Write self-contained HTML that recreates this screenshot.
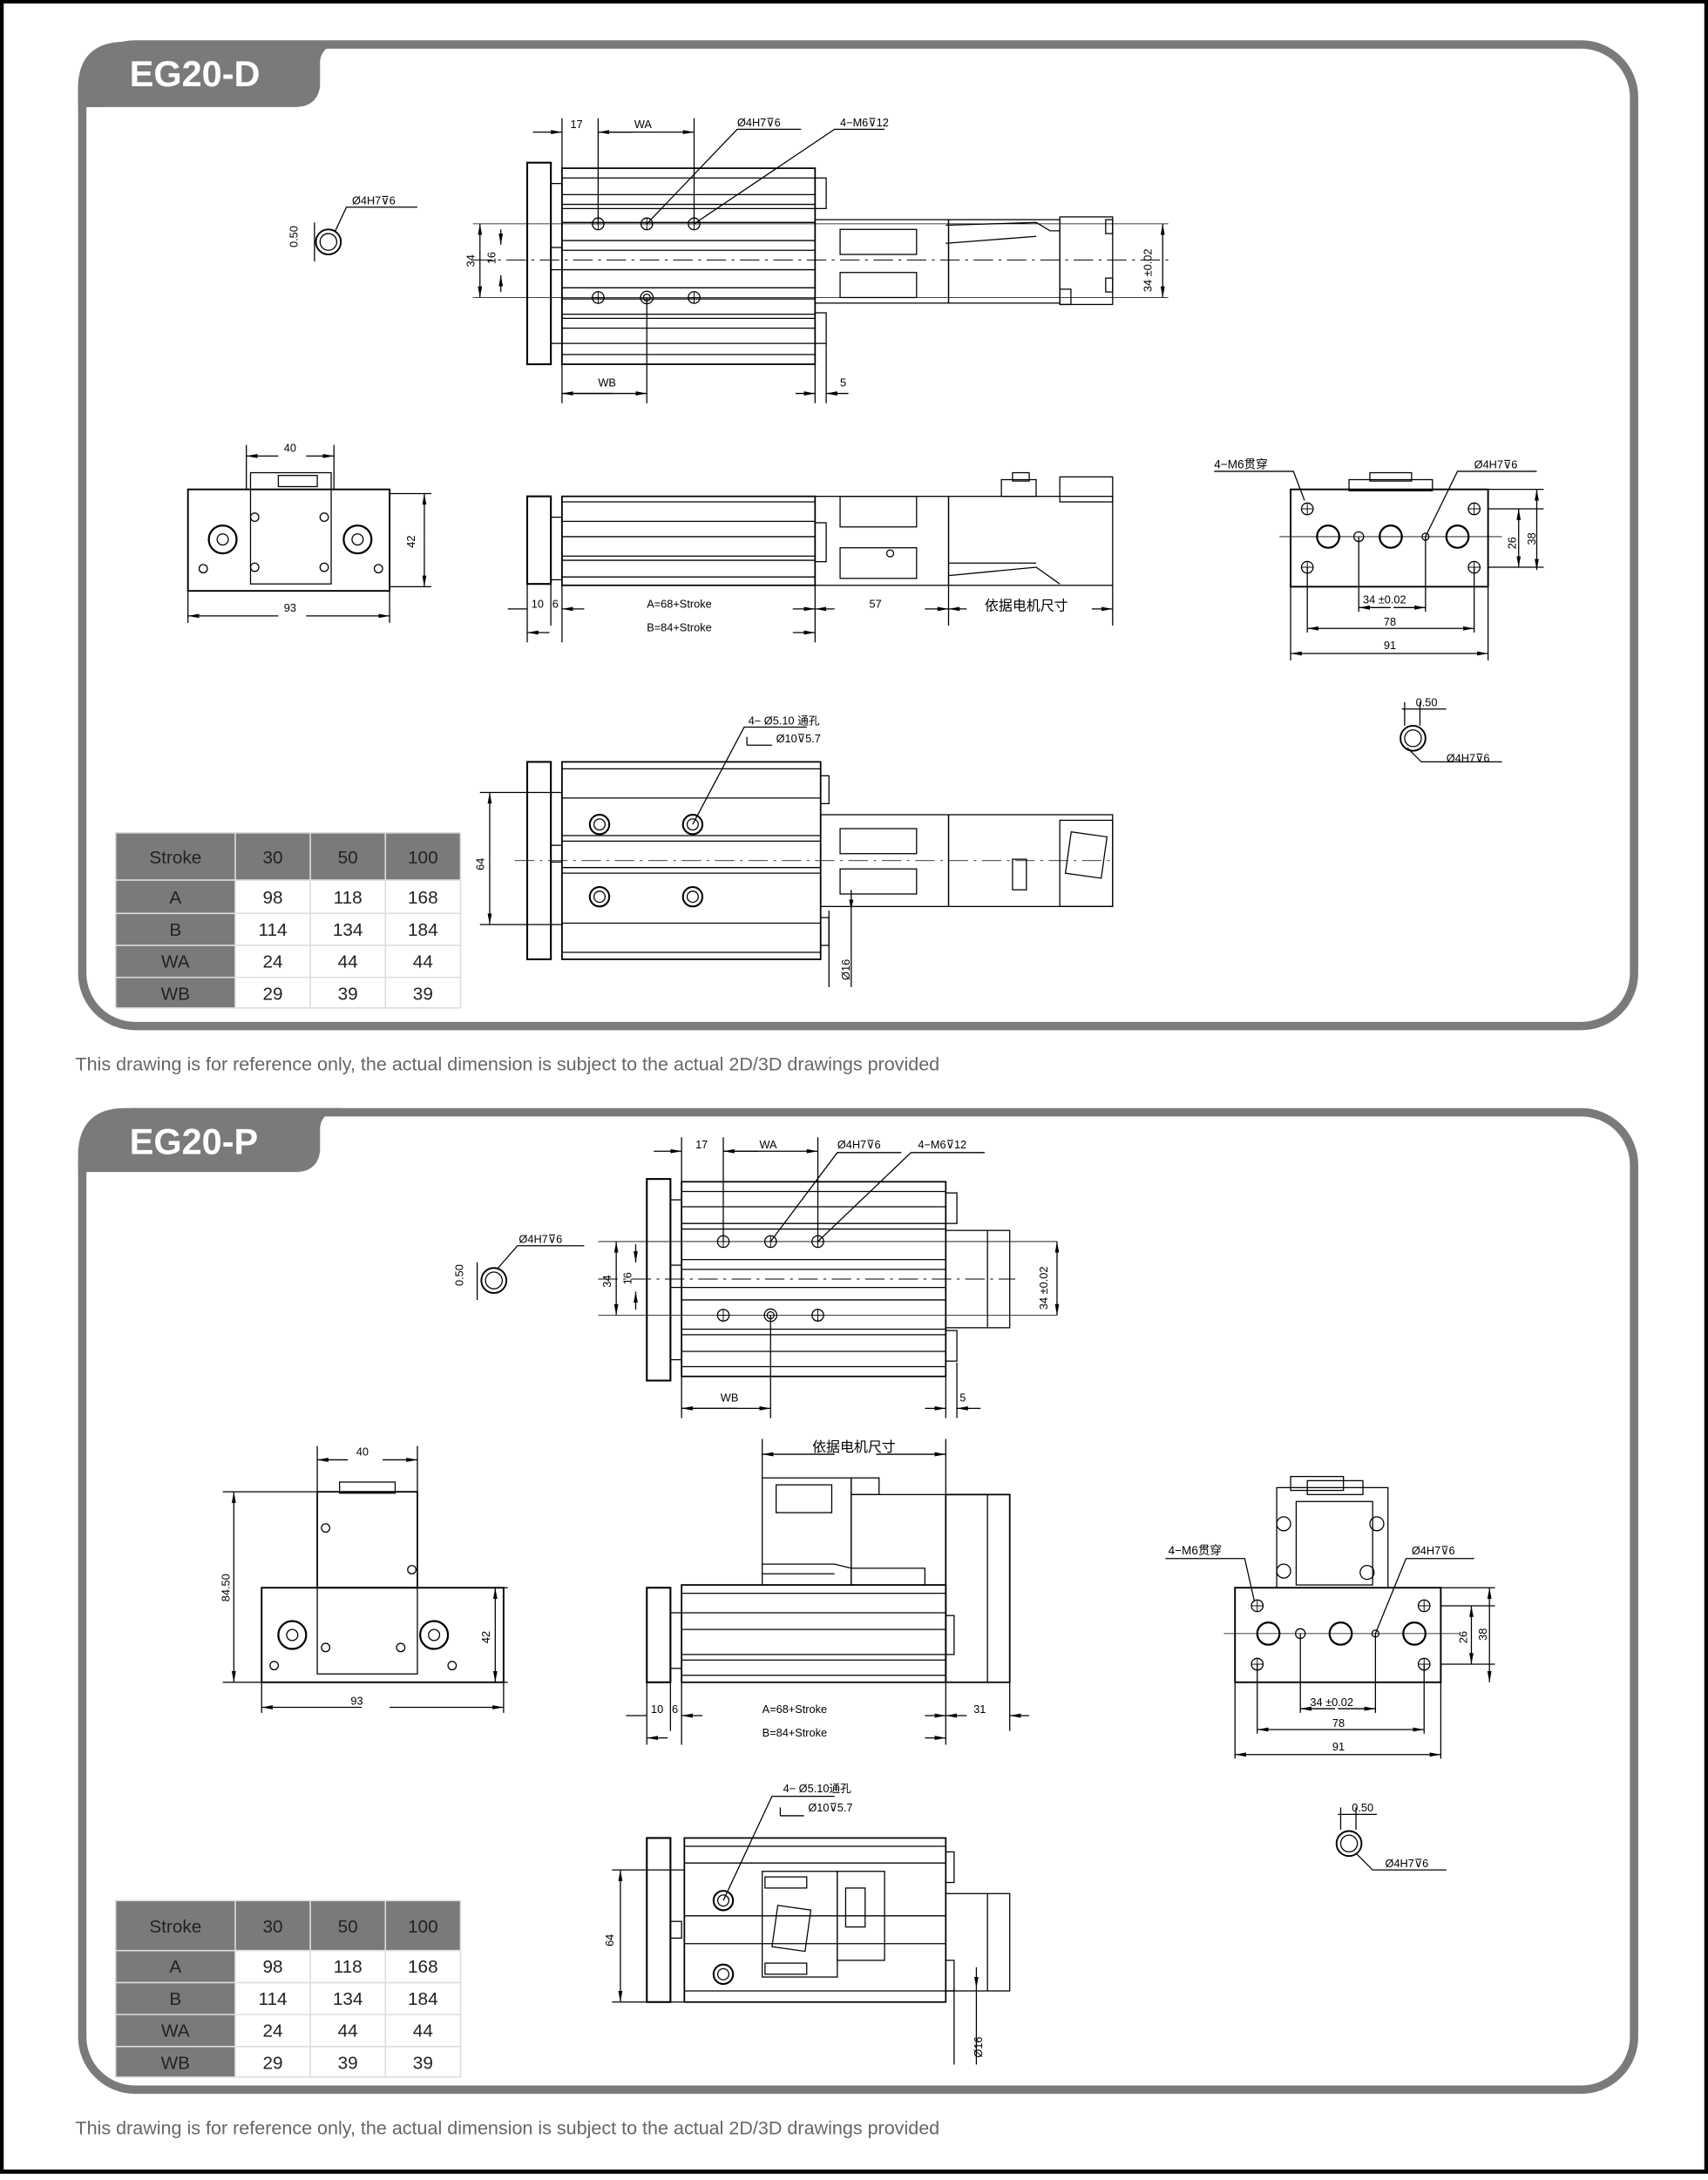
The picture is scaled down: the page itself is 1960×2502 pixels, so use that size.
<!DOCTYPE html>
<html><head><meta charset="utf-8"><style>
html,body{margin:0;padding:0;background:#fff;}
svg{display:block;}
.t{font-family:"Liberation Sans","Noto Sans CJK SC",sans-serif;}
</style></head><body>
<svg width="1960" height="2502" viewBox="0 0 1228 1568" xmlns="http://www.w3.org/2000/svg" class="t">
<defs>
<g id="hole"><circle r="4.2" fill="none" stroke="#000" stroke-width="0.8"/><line x1="-4.2" y1="0" x2="4.2" y2="0" stroke="#000" stroke-width="0.6"/><line x1="0" y1="-4.2" x2="0" y2="4.2" stroke="#000" stroke-width="0.6"/></g>
<g id="bighole"><circle r="8" fill="none" stroke="#000" stroke-width="1.4"/><circle r="3.5" fill="none" stroke="#000" stroke-width="0.7"/></g>
<marker id="ar" markerWidth="8" markerHeight="6" refX="8" refY="3" orient="auto" markerUnits="userSpaceOnUse"><path d="M0,1.5 L8,3 L0,4.5z" fill="#000"/></marker>
</defs>
<rect x="1" y="1" width="1226" height="1561" fill="none" stroke="#000" stroke-width="3"/>

<!-- PANEL 1 -->
<rect x="59" y="32" width="1116" height="706" rx="38" fill="none" stroke="#7a7a7a" stroke-width="6"/>
<path d="M56,77 L56,60 Q58,30 90,30 L245,30 Q230,34 230,45 L230,62 Q228,77 212,77 Z" fill="#7a7a7a"/>
<path d="M56,60 Q58,77 78,77 L100,77 L56,77Z" fill="#7a7a7a"/>
<text x="93" y="62" font-size="26" font-weight="bold" fill="#fff">EG20-D</text>
<text x="54" y="770" font-size="13.5" fill="#666">This drawing is for reference only, the actual dimension is subject to the actual 2D/3D drawings provided</text>

<!-- table 1 -->
<g font-size="13" text-anchor="middle">
<rect x="83" y="599" width="248" height="34" fill="#7a7a7a"/>
<rect x="83" y="633" width="86" height="92" fill="#7a7a7a"/>
<g stroke="#ddd" stroke-width="1" fill="none">
<rect x="83" y="599" width="248" height="126"/>
<line x1="169" y1="599" x2="169" y2="725"/><line x1="223" y1="599" x2="223" y2="725"/><line x1="277" y1="599" x2="277" y2="725"/>
<line x1="83" y1="633" x2="331" y2="633"/><line x1="83" y1="657" x2="331" y2="657"/><line x1="83" y1="680" x2="331" y2="680"/><line x1="83" y1="703" x2="331" y2="703"/>
</g>
<g fill="#222"><text x="126" y="621">Stroke</text><text x="196" y="621">30</text><text x="250" y="621">50</text><text x="304" y="621">100</text>
<text x="126" y="650">A</text><text x="196" y="650">98</text><text x="250" y="650">118</text><text x="304" y="650">168</text>
<text x="126" y="673">B</text><text x="196" y="673">114</text><text x="250" y="673">134</text><text x="304" y="673">184</text>
<text x="126" y="696">WA</text><text x="196" y="696">24</text><text x="250" y="696">44</text><text x="304" y="696">44</text>
<text x="126" y="719">WB</text><text x="196" y="719">29</text><text x="250" y="719">39</text><text x="304" y="719">39</text></g>
</g>

<g stroke="#000" fill="none" stroke-width="0.8" font-size="8">
<!-- top view D -->
<rect x="379" y="117" width="17" height="145" stroke-width="1.3"/>
<rect x="396" y="132" width="8" height="115"/>
<rect x="396" y="178" width="8" height="16"/>
<rect x="404" y="121" width="182" height="141" stroke-width="1.1"/>
<path d="M404,128H586M404,140H586M404,147H586M404,150H586M404,160H586M404,173H586M404,180H586M404,194H586M404,207H586M404,215H586M404,226H586M404,229H586M404,236H586M404,247H586M404,255H586"/>
<rect x="586" y="128" width="8" height="22"/><rect x="586" y="225" width="8" height="22"/>
<rect x="586" y="158" width="96" height="60"/>
<rect x="604" y="165" width="55" height="18"/><rect x="604" y="196" width="55" height="18"/>
<rect x="682" y="158" width="80" height="60"/>
<rect x="762" y="156" width="38" height="63"/>
<path d="M680,162L745,160L755,166L762,166M680,175L745,170"/>
<rect x="762" y="208" width="8" height="11"/><rect x="795" y="158" width="5" height="10"/><rect x="795" y="200" width="5" height="10"/>
<line x1="340" y1="187" x2="840" y2="187" stroke-dasharray="14,4,2,4" stroke-width="0.6"/>
<line x1="340" y1="161" x2="840" y2="161" stroke-width="0.5"/><line x1="340" y1="214" x2="840" y2="214" stroke-width="0.5"/>
<use href="#hole" x="430" y="161"/><use href="#hole" x="465" y="161"/><use href="#hole" x="499" y="161"/>
<use href="#hole" x="430" y="214"/><use href="#hole" x="499" y="214"/>
<circle cx="465" cy="214" r="4.5"/><circle cx="465" cy="214" r="2.5"/>
<path d="M404,85V121M430,85V161M499,85V161M465,214V290M404,262V290M586,262V290M594,247V290"/>
<line x1="383" y1="95" x2="404" y2="95" marker-end="url(#ar)"/><line x1="430" y1="95" x2="499" y2="95" marker-end="url(#ar)"/><line x1="455" y1="95" x2="430" y2="95" marker-end="url(#ar)"/>
<line x1="404" y1="283" x2="465" y2="283" marker-end="url(#ar)"/><line x1="440" y1="283" x2="404" y2="283" marker-end="url(#ar)"/>
<line x1="572" y1="283" x2="586" y2="283" marker-end="url(#ar)"/><line x1="610" y1="283" x2="594" y2="283" marker-end="url(#ar)"/>
<path d="M465,161L530,93H576M499,161L600,93H636"/>
<line x1="345" y1="187" x2="345" y2="161" marker-end="url(#ar)"/><line x1="345" y1="187" x2="345" y2="214" marker-end="url(#ar)"/>
<line x1="360" y1="165" x2="360" y2="176" marker-end="url(#ar)"/><line x1="360" y1="210" x2="360" y2="198" marker-end="url(#ar)"/>
<line x1="836" y1="187" x2="836" y2="161" marker-end="url(#ar)"/><line x1="836" y1="187" x2="836" y2="214" marker-end="url(#ar)"/>
<g stroke="none" fill="#000">
<text x="410" y="92">17</text><text x="456" y="92">WA</text><text x="530" y="91">Ø4H7⊽6</text><text x="604" y="91">4−M6⊽12</text>
<text x="430" y="278">WB</text><text x="604" y="278">5</text>
<text transform="translate(341,192) rotate(-90)">34</text><text transform="translate(356,190) rotate(-90)">16</text>
<text transform="translate(828,210) rotate(-90)">34 ±0.02</text>
</g>
<!-- small detail circles -->
<circle cx="236" cy="174" r="9" stroke-width="1.2"/><circle cx="236" cy="174" r="6"/>
<path d="M241,166L249,149H300"/><line x1="226" y1="160" x2="226" y2="188"/>
<text x="253" y="147" stroke="none" fill="#000">Ø4H7⊽6</text>
<text transform="translate(214,178) rotate(-90)" stroke="none" fill="#000">0.50</text>
<circle cx="1016" cy="531" r="9" stroke-width="1.2"/><circle cx="1016" cy="531" r="6"/>
<path d="M1012,538L1022,548H1080M1008,510H1040M1010,505V522M1021,505V522"/>
<text x="1040" y="548" stroke="none" fill="#000">Ø4H7⊽6</text><text x="1018" y="508" stroke="none" fill="#000">0.50</text>

<!-- side view D -->
<rect x="379" y="357" width="17" height="63" stroke-width="1.3"/>
<rect x="396" y="372" width="8" height="45"/>
<rect x="404" y="357" width="182" height="64" stroke-width="1.1"/>
<path d="M404,361H586M404,375H586M404,386H586M404,400H586M404,403H586M404,415H586"/>
<rect x="586" y="376" width="8" height="28"/>
<rect x="586" y="357" width="96" height="64"/>
<rect x="604" y="357" width="55" height="22"/><rect x="604" y="394" width="55" height="22"/>
<rect x="682" y="357" width="118" height="64"/>
<rect x="720" y="345" width="25" height="12"/><rect x="728" y="340" width="12" height="6"/>
<rect x="762" y="343" width="38" height="18"/>
<path d="M682,414L745,408L762,420M682,405L745,405"/>
<circle cx="640" cy="398" r="2.5"/>
<path d="M379,420V462M396,420V450M404,421V462M586,421V462M682,421V450M800,421V450"/>
<line x1="365" y1="438" x2="379" y2="438"/><line x1="420" y1="438" x2="404" y2="438" marker-end="url(#ar)"/><line x1="570" y1="438" x2="586" y2="438" marker-end="url(#ar)"/>
<line x1="600" y1="438" x2="586" y2="438" marker-end="url(#ar)"/><line x1="665" y1="438" x2="682" y2="438" marker-end="url(#ar)"/>
<line x1="695" y1="438" x2="682" y2="438" marker-end="url(#ar)"/><line x1="785" y1="438" x2="800" y2="438" marker-end="url(#ar)"/>
<line x1="395" y1="455" x2="379" y2="455" marker-end="url(#ar)"/><line x1="570" y1="455" x2="586" y2="455" marker-end="url(#ar)"/>
<g stroke="none" fill="#000"><text x="382" y="437">10</text><text x="397" y="437">6</text><text x="465" y="437">A=68+Stroke</text><text x="465" y="454">B=84+Stroke</text><text x="625" y="437">57</text><text x="708" y="439" font-size="10">依据电机尺寸</text></g>

<!-- left end D -->
<rect x="135" y="352" width="145" height="73" stroke-width="1.2"/>
<rect x="180" y="340" width="58" height="80"/><rect x="200" y="342" width="28" height="8"/>
<circle cx="160" cy="388" r="10" stroke-width="1.4"/><circle cx="160" cy="388" r="4"/>
<circle cx="257" cy="388" r="10" stroke-width="1.4"/><circle cx="257" cy="388" r="4"/>
<circle cx="183" cy="372" r="3"/><circle cx="233" cy="372" r="3"/><circle cx="183" cy="408" r="3"/><circle cx="233" cy="408" r="3"/>
<circle cx="146" cy="409" r="3"/><circle cx="272" cy="409" r="3"/>
<path d="M177,320V352M240,320V352M280,355H310M280,422H310M135,425V448M280,425V448"/>
<line x1="200" y1="328" x2="177" y2="328" marker-end="url(#ar)"/><line x1="220" y1="328" x2="240" y2="328" marker-end="url(#ar)"/>
<line x1="305" y1="388" x2="305" y2="355" marker-end="url(#ar)"/><line x1="305" y1="388" x2="305" y2="422" marker-end="url(#ar)"/>
<line x1="200" y1="443" x2="135" y2="443" marker-end="url(#ar)"/><line x1="220" y1="443" x2="280" y2="443" marker-end="url(#ar)"/>
<g stroke="none" fill="#000"><text x="204" y="325">40</text><text x="204" y="440">93</text><text transform="translate(298,394) rotate(-90)">42</text></g>

<!-- right end D -->
<rect x="928" y="352" width="142" height="70" stroke-width="1.2"/>
<rect x="970" y="345" width="60" height="8"/><rect x="985" y="340" width="30" height="6"/>
<line x1="920" y1="386" x2="1080" y2="386" stroke-width="0.5"/>
<circle cx="955" cy="386" r="8" stroke-width="1.4"/><circle cx="1000" cy="386" r="8" stroke-width="1.4"/><circle cx="1048" cy="386" r="8" stroke-width="1.4"/>
<circle cx="977" cy="386" r="3.5"/><circle cx="1025" cy="386" r="2.5"/>
<use href="#hole" x="940" y="366"/><use href="#hole" x="940" y="408"/><use href="#hole" x="1060" y="366"/><use href="#hole" x="1060" y="408"/>
<path d="M977,386V440M1025,386V440M940,408V455M1060,408V455M928,422V475M1070,422V475M1070,366H1110M1070,408H1110M1070,352H1110M873,339H930L938,360M1025,386L1048,339H1105"/>
<line x1="1000" y1="437" x2="977" y2="437" marker-end="url(#ar)"/><line x1="1002" y1="437" x2="1025" y2="437" marker-end="url(#ar)"/>
<line x1="1000" y1="452" x2="940" y2="452" marker-end="url(#ar)"/><line x1="1000" y1="452" x2="1060" y2="452" marker-end="url(#ar)"/>
<line x1="1000" y1="470" x2="928" y2="470" marker-end="url(#ar)"/><line x1="1000" y1="470" x2="1070" y2="470" marker-end="url(#ar)"/>
<line x1="1092" y1="387" x2="1092" y2="366" marker-end="url(#ar)"/><line x1="1092" y1="387" x2="1092" y2="408" marker-end="url(#ar)"/>
<line x1="1105" y1="387" x2="1105" y2="352" marker-end="url(#ar)"/><line x1="1105" y1="387" x2="1105" y2="410" marker-end="url(#ar)"/>
<g stroke="none" fill="#000"><text x="873" y="337" font-size="8.5">4−M6贯穿</text><text x="1060" y="337">Ø4H7⊽6</text>
<text x="980" y="434">34 ±0.02</text><text x="995" y="450">78</text><text x="995" y="467">91</text>
<text transform="translate(1090,395) rotate(-90)">26</text><text transform="translate(1104,392) rotate(-90)">38</text></g>

<!-- bottom view D -->
<rect x="379" y="548" width="17" height="142" stroke-width="1.3"/>
<rect x="396" y="608" width="8" height="12"/>
<rect x="404" y="548" width="186" height="142" stroke-width="1.1"/>
<path d="M404,553H590M404,574H590M404,601H590M404,605H590M404,624H590M404,628H590M404,664H590M404,685H590"/>
<rect x="590" y="558" width="6" height="20"/><rect x="590" y="660" width="6" height="20"/>
<rect x="590" y="586" width="92" height="66"/><rect x="604" y="596" width="55" height="18"/><rect x="604" y="625" width="55" height="18"/>
<rect x="682" y="586" width="118" height="66"/><rect x="762" y="590" width="38" height="62"/>
<rect x="768" y="600" width="26" height="30" transform="rotate(8 781 615)"/><rect x="728" y="618" width="10" height="22"/>
<circle cx="431" cy="593" r="7" stroke-width="1.3"/><circle cx="431" cy="593" r="4"/><circle cx="498" cy="593" r="7" stroke-width="1.3"/><circle cx="498" cy="593" r="4"/>
<circle cx="431" cy="645" r="7" stroke-width="1.3"/><circle cx="431" cy="645" r="4"/><circle cx="498" cy="645" r="7" stroke-width="1.3"/><circle cx="498" cy="645" r="4"/>
<line x1="370" y1="619" x2="800" y2="619" stroke-dasharray="14,4,2,4" stroke-width="0.5"/>
<path d="M345,570H404M345,665H404M498,593L535,523H580M537,536V530M537,536H555M596,655V710M612,655V710"/>
<line x1="352" y1="620" x2="352" y2="570" marker-end="url(#ar)"/><line x1="352" y1="620" x2="352" y2="665" marker-end="url(#ar)"/>
<line x1="612" y1="640" x2="612" y2="655" marker-end="url(#ar)"/>
<g stroke="none" fill="#000"><text x="538" y="521">4− Ø5.10 通孔</text><text x="558" y="534">Ø10⊽5.7</text>
<text transform="translate(348,626) rotate(-90)">64</text><text transform="translate(611,705) rotate(-90)">Ø16</text></g>
</g>

<!-- PANEL 2 -->
<rect x="59" y="800" width="1116" height="703" rx="38" fill="none" stroke="#7a7a7a" stroke-width="6"/>
<path d="M56,843 L56,828 Q58,797 90,797 L245,797 Q230,801 230,812 L230,828 Q228,843 212,843 Z" fill="#7a7a7a"/>
<text x="93" y="830" font-size="26" font-weight="bold" fill="#fff">EG20-P</text>
<text x="54" y="1535" font-size="13.5" fill="#666">This drawing is for reference only, the actual dimension is subject to the actual 2D/3D drawings provided</text>

<g font-size="13" text-anchor="middle">
<rect x="83" y="1367" width="248" height="36" fill="#7a7a7a"/>
<rect x="83" y="1403" width="86" height="91" fill="#7a7a7a"/>
<g stroke="#ddd" stroke-width="1" fill="none">
<rect x="83" y="1367" width="248" height="127"/>
<line x1="169" y1="1367" x2="169" y2="1494"/><line x1="223" y1="1367" x2="223" y2="1494"/><line x1="277" y1="1367" x2="277" y2="1494"/>
<line x1="83" y1="1403" x2="331" y2="1403"/><line x1="83" y1="1426" x2="331" y2="1426"/><line x1="83" y1="1449" x2="331" y2="1449"/><line x1="83" y1="1472" x2="331" y2="1472"/>
</g>
<g fill="#222"><text x="126" y="1390">Stroke</text><text x="196" y="1390">30</text><text x="250" y="1390">50</text><text x="304" y="1390">100</text>
<text x="126" y="1419">A</text><text x="196" y="1419">98</text><text x="250" y="1419">118</text><text x="304" y="1419">168</text>
<text x="126" y="1442">B</text><text x="196" y="1442">114</text><text x="250" y="1442">134</text><text x="304" y="1442">184</text>
<text x="126" y="1465">WA</text><text x="196" y="1465">24</text><text x="250" y="1465">44</text><text x="304" y="1465">44</text>
<text x="126" y="1488">WB</text><text x="196" y="1488">29</text><text x="250" y="1488">39</text><text x="304" y="1488">39</text></g>
</g>

<g stroke="#000" fill="none" stroke-width="0.8" font-size="8">
<!-- top view P -->
<rect x="465" y="848" width="17" height="145" stroke-width="1.3"/>
<rect x="482" y="863" width="8" height="115"/><rect x="482" y="910" width="8" height="16"/>
<rect x="490" y="850" width="190" height="140" stroke-width="1.1"/>
<path d="M490,857H680M490,868H680M490,880H680M490,884H680M490,906H680M490,913H680M490,926H680M490,935H680M490,956H680M490,960H680M490,972H680M490,983H680"/>
<rect x="680" y="858" width="8" height="22"/><rect x="680" y="957" width="8" height="22"/>
<rect x="680" y="885" width="46" height="70"/><line x1="710" y1="885" x2="710" y2="955"/>
<line x1="430" y1="920" x2="730" y2="920" stroke-dasharray="14,4,2,4" stroke-width="0.6"/>
<line x1="430" y1="893" x2="760" y2="893" stroke-width="0.5"/><line x1="430" y1="946" x2="760" y2="946" stroke-width="0.5"/>
<use href="#hole" x="520" y="893"/><use href="#hole" x="554" y="893"/><use href="#hole" x="588" y="893"/>
<use href="#hole" x="520" y="946"/><use href="#hole" x="588" y="946"/><circle cx="554" cy="946" r="4.5"/><circle cx="554" cy="946" r="2.5"/>
<path d="M490,818V850M520,818V893M588,818V893M554,946V1020M490,990V1020M680,990V1020M688,980V1020"/>
<line x1="470" y1="828" x2="490" y2="828" marker-end="url(#ar)"/><line x1="520" y1="828" x2="588" y2="828" marker-end="url(#ar)"/><line x1="545" y1="828" x2="520" y2="828" marker-end="url(#ar)"/>
<line x1="490" y1="1013" x2="554" y2="1013" marker-end="url(#ar)"/><line x1="530" y1="1013" x2="490" y2="1013" marker-end="url(#ar)"/>
<line x1="665" y1="1013" x2="680" y2="1013" marker-end="url(#ar)"/><line x1="705" y1="1013" x2="688" y2="1013" marker-end="url(#ar)"/>
<path d="M554,893L602,829H648M588,893L655,829H708"/>
<line x1="443" y1="920" x2="443" y2="893" marker-end="url(#ar)"/><line x1="443" y1="920" x2="443" y2="946" marker-end="url(#ar)"/>
<line x1="457" y1="895" x2="457" y2="908" marker-end="url(#ar)"/><line x1="457" y1="942" x2="457" y2="929" marker-end="url(#ar)"/>
<line x1="760" y1="920" x2="760" y2="893" marker-end="url(#ar)"/><line x1="760" y1="920" x2="760" y2="946" marker-end="url(#ar)"/>
<g stroke="none" fill="#000"><text x="500" y="826">17</text><text x="546" y="826">WA</text><text x="602" y="826">Ø4H7⊽6</text><text x="660" y="826">4−M6⊽12</text>
<text x="518" y="1008">WB</text><text x="690" y="1008">5</text>
<text transform="translate(439,926) rotate(-90)">34</text><text transform="translate(454,924) rotate(-90)">16</text>
<text transform="translate(753,942) rotate(-90)">34 ±0.02</text></g>
<circle cx="355" cy="921" r="9" stroke-width="1.2"/><circle cx="355" cy="921" r="6"/>
<path d="M358,912L372,896H420M343,908V935"/>
<text x="373" y="894" stroke="none" fill="#000">Ø4H7⊽6</text>
<text transform="translate(333,925) rotate(-90)" stroke="none" fill="#000">0.50</text>
<circle cx="970" cy="1326" r="9" stroke-width="1.2"/><circle cx="970" cy="1326" r="6"/>
<path d="M975,1333L987,1345H1040M962,1305H990M964,1300V1316M975,1300V1316"/>
<text x="996" y="1343" stroke="none" fill="#000">Ø4H7⊽6</text><text x="972" y="1303" stroke="none" fill="#000">0.50</text>

<!-- side view P -->
<rect x="548" y="1063" width="64" height="77"/><rect x="558" y="1068" width="40" height="20"/>
<rect x="612" y="1075" width="68" height="65"/><rect x="612" y="1063" width="20" height="12"/>
<path d="M548,1125H600L612,1128H665V1140M548,1132H600"/>
<rect x="680" y="1075" width="46" height="135" stroke-width="1.1"/><line x1="710" y1="1075" x2="710" y2="1210"/>
<rect x="465" y="1142" width="17" height="68" stroke-width="1.3"/><rect x="482" y="1160" width="8" height="40"/>
<rect x="490" y="1140" width="190" height="70" stroke-width="1.1"/>
<path d="M490,1146H680M490,1160H680M490,1172H680M490,1190H680M490,1194H680M490,1205H680"/>
<rect x="680" y="1162" width="6" height="28"/>
<path d="M548,1035V1063M680,1035V1075M465,1210V1255M482,1210V1245M490,1210V1255M680,1210V1255M726,1210V1245"/>
<line x1="600" y1="1046" x2="548" y2="1046" marker-end="url(#ar)"/><line x1="630" y1="1046" x2="680" y2="1046" marker-end="url(#ar)"/>
<line x1="450" y1="1234" x2="465" y2="1234"/><line x1="505" y1="1234" x2="490" y2="1234" marker-end="url(#ar)"/><line x1="665" y1="1234" x2="680" y2="1234" marker-end="url(#ar)"/>
<line x1="695" y1="1234" x2="680" y2="1234" marker-end="url(#ar)"/><line x1="740" y1="1234" x2="726" y2="1234" marker-end="url(#ar)"/>
<line x1="480" y1="1250" x2="465" y2="1250" marker-end="url(#ar)"/><line x1="665" y1="1250" x2="680" y2="1250" marker-end="url(#ar)"/>
<g stroke="none" fill="#000"><text x="468" y="1232">10</text><text x="483" y="1232">6</text><text x="548" y="1232">A=68+Stroke</text><text x="548" y="1249">B=84+Stroke</text><text x="700" y="1232">31</text><text x="584" y="1044" font-size="10">依据电机尺寸</text></g>

<!-- left end P -->
<rect x="228" y="1073" width="72" height="69" stroke-width="1.1"/><rect x="244" y="1066" width="40" height="8"/>
<rect x="188" y="1142" width="174" height="68" stroke-width="1.2"/><rect x="228" y="1142" width="72" height="62"/>
<circle cx="210" cy="1176" r="10" stroke-width="1.4"/><circle cx="210" cy="1176" r="4"/>
<circle cx="312" cy="1176" r="10" stroke-width="1.4"/><circle cx="312" cy="1176" r="4"/>
<circle cx="234" cy="1099" r="3"/><circle cx="296" cy="1129" r="3"/><circle cx="234" cy="1185" r="3"/><circle cx="288" cy="1185" r="3"/>
<circle cx="197" cy="1198" r="3"/><circle cx="325" cy="1198" r="3"/>
<path d="M228,1040V1073M300,1040V1073M160,1073H228M160,1210H188M362,1142H365M362,1210H365M188,1210V1232M362,1210V1232"/>
<line x1="250" y1="1050" x2="228" y2="1050" marker-end="url(#ar)"/><line x1="275" y1="1050" x2="300" y2="1050" marker-end="url(#ar)"/>
<line x1="168" y1="1140" x2="168" y2="1073" marker-end="url(#ar)"/><line x1="168" y1="1140" x2="168" y2="1210" marker-end="url(#ar)"/>
<line x1="356" y1="1176" x2="356" y2="1142" marker-end="url(#ar)"/><line x1="356" y1="1176" x2="356" y2="1210" marker-end="url(#ar)"/>
<line x1="260" y1="1228" x2="188" y2="1228" marker-end="url(#ar)"/><line x1="280" y1="1228" x2="362" y2="1228" marker-end="url(#ar)"/>
<g stroke="none" fill="#000"><text x="256" y="1047">40</text><text x="252" y="1226">93</text><text transform="translate(165,1152) rotate(-90)">84.50</text><text transform="translate(352,1182) rotate(-90)">42</text></g>

<!-- right end P -->
<rect x="918" y="1070" width="80" height="72"/><rect x="928" y="1062" width="38" height="10"/><rect x="940" y="1065" width="40" height="10"/>
<rect x="932" y="1080" width="55" height="60"/>
<circle cx="923" cy="1096" r="5"/><circle cx="990" cy="1096" r="5"/><circle cx="923" cy="1130" r="5"/><circle cx="983" cy="1131" r="5"/>
<rect x="888" y="1142" width="148" height="68" stroke-width="1.2"/>
<line x1="880" y1="1175" x2="1050" y2="1175" stroke-width="0.5"/>
<circle cx="912" cy="1175" r="8" stroke-width="1.4"/><circle cx="964" cy="1175" r="8" stroke-width="1.4"/><circle cx="1017" cy="1175" r="8" stroke-width="1.4"/>
<circle cx="935" cy="1175" r="3.5"/><circle cx="989" cy="1175" r="2.5"/>
<use href="#hole" x="904" y="1155"/><use href="#hole" x="904" y="1197"/><use href="#hole" x="1024" y="1155"/><use href="#hole" x="1024" y="1197"/>
<path d="M935,1175V1232M989,1175V1232M904,1197V1247M1024,1197V1247M888,1210V1265M1036,1210V1265M1036,1155H1075M1036,1197H1075M1036,1142H1075M838,1121H895L902,1152M989,1175L1011,1121H1060"/>
<line x1="960" y1="1229" x2="935" y2="1229" marker-end="url(#ar)"/><line x1="962" y1="1229" x2="989" y2="1229" marker-end="url(#ar)"/>
<line x1="964" y1="1244" x2="904" y2="1244" marker-end="url(#ar)"/><line x1="964" y1="1244" x2="1024" y2="1244" marker-end="url(#ar)"/>
<line x1="964" y1="1262" x2="888" y2="1262" marker-end="url(#ar)"/><line x1="964" y1="1262" x2="1036" y2="1262" marker-end="url(#ar)"/>
<line x1="1058" y1="1176" x2="1058" y2="1155" marker-end="url(#ar)"/><line x1="1058" y1="1176" x2="1058" y2="1197" marker-end="url(#ar)"/>
<line x1="1071" y1="1176" x2="1071" y2="1142" marker-end="url(#ar)"/><line x1="1071" y1="1176" x2="1071" y2="1210" marker-end="url(#ar)"/>
<g stroke="none" fill="#000"><text x="840" y="1118" font-size="8.5">4−M6贯穿</text><text x="1015" y="1118">Ø4H7⊽6</text>
<text x="942" y="1227">34 ±0.02</text><text x="958" y="1242">78</text><text x="958" y="1259">91</text>
<text transform="translate(1055,1182) rotate(-90)">26</text><text transform="translate(1069,1180) rotate(-90)">38</text></g>

<!-- bottom view P -->
<rect x="465" y="1322" width="17" height="118" stroke-width="1.3"/>
<rect x="482" y="1382" width="8" height="12"/>
<rect x="492" y="1322" width="188" height="118" stroke-width="1.1"/>
<path d="M492,1328H680M492,1340H680M492,1378H680M492,1398H680M492,1432H680"/>
<rect x="548" y="1346" width="54" height="76"/><rect x="550" y="1350" width="30" height="8"/><rect x="550" y="1412" width="30" height="8"/>
<rect x="557" y="1372" width="24" height="30" transform="rotate(8 569 1387)"/>
<rect x="602" y="1346" width="34" height="64"/><rect x="608" y="1358" width="14" height="28"/>
<rect x="680" y="1332" width="6" height="22"/><rect x="680" y="1410" width="6" height="22"/>
<rect x="680" y="1362" width="46" height="70"/><line x1="710" y1="1362" x2="710" y2="1432"/>
<circle cx="520" cy="1367" r="7" stroke-width="1.3"/><circle cx="520" cy="1367" r="4"/>
<circle cx="520" cy="1420" r="7" stroke-width="1.3"/><circle cx="520" cy="1420" r="4"/>
<path d="M440,1345H492M440,1440H492M520,1367L555,1292H600M561,1306V1300M561,1306H578M686,1430V1485M702,1430V1485"/>
<line x1="446" y1="1395" x2="446" y2="1345" marker-end="url(#ar)"/><line x1="446" y1="1395" x2="446" y2="1440" marker-end="url(#ar)"/>
<line x1="702" y1="1415" x2="702" y2="1430" marker-end="url(#ar)"/>
<g stroke="none" fill="#000"><text x="563" y="1289">4− Ø5.10通孔</text><text x="581" y="1303">Ø10⊽5.7</text>
<text transform="translate(441,1400) rotate(-90)">64</text><text transform="translate(706,1480) rotate(-90)">Ø16</text></g>
</g>
</svg>
</body></html>
